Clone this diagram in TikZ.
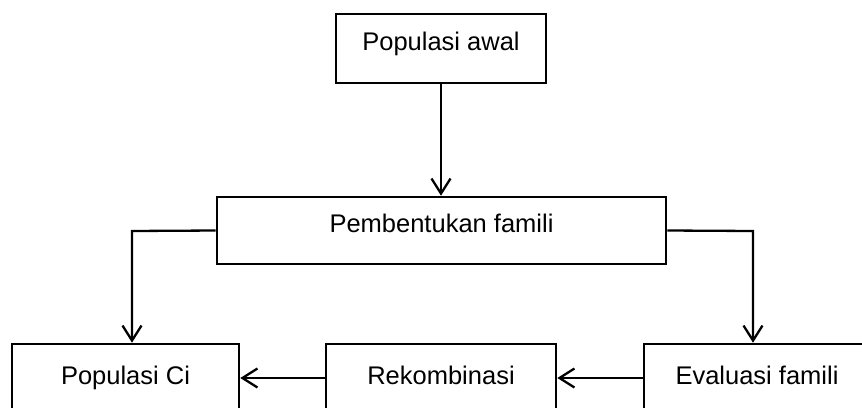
\documentclass[tikz,border=0pt]{standalone}
\usepackage{fontspec}
\setmainfont{Liberation Sans}
\usetikzlibrary{arrows.meta}
\begin{document}
\begin{tikzpicture}[x=1pt,y=-1pt,
  box/.style={draw, line width=2.6pt, inner sep=0pt, font=\fontsize{25.5}{30}\selectfont, text height=18pt},
  topbox/.style={box, text depth=15pt},
  botbox/.style={box, text depth=6pt, minimum height=68pt},
  conn/.style={line width=2.3pt, -{Straight Barb[length=15pt,width=19pt,line width=2.3pt]}}]
\useasboundingbox (0,0) rectangle (862,407);
\clip (0,0) rectangle (862,407);
\node[topbox, minimum width=210pt, minimum height=69pt] (awal) at (441,48.5) {Populasi awal};
\node[topbox, minimum width=449pt, minimum height=67pt] (pemb) at (441.5,230.5) {Pembentukan famili};
\node[botbox, minimum width=227pt] (ci) at (125.5,378) {Populasi Ci};
\node[botbox, minimum width=230pt] (rek) at (441,378) {Rekombinasi};
\node[botbox, minimum width=226pt] (eval) at (757,378) {Evaluasi famili};
\coordinate (lc) at (132,231);
\coordinate (rc) at (753,231);
\draw[conn] (awal.south) -- (awal.south |- pemb.north);
\draw[conn] (pemb.west) -- (lc) -- (lc |- ci.north);
\draw[conn] (pemb.east) -- (rc) -- (rc |- eval.north);
\draw[conn] (eval.west) -- (rek.east);
\draw[conn] (rek.west) -- (ci.east);
\end{tikzpicture}
\end{document}
